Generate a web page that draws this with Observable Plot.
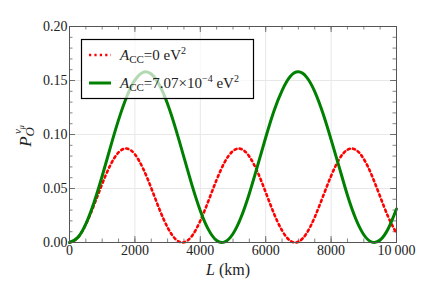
<!DOCTYPE html>
<html>
<head>
<meta charset="utf-8">
<script src="https://cdn.jsdelivr.net/npm/d3@7"></script>
<script src="https://cdn.jsdelivr.net/npm/@observablehq/plot@0.6"></script>
<style>
  html, body { margin: 0; padding: 0; background: #fff; }
  #wrap { position: relative; width: 435px; height: 302px; font-family: 'Liberation Serif', serif; }
  #xlabel { position: absolute; left: 0; width: 456px; top: 261px; text-align: center; font: 16px 'Liberation Serif', serif; color: #222; }
</style>
</head>
<body>
<div id="wrap"><div id="chart"></div><div id="xlabel"><i>L</i> (km)</div></div>
<script>
// Baseline L values (km)
const L = [0,250,500,750,1000,1250,1500,1750,2000,2250,2500,2750,3000,3250,3500,3750,4000,4250,4500,4750,5000,5250,5500,5750,6000,6250,6500,6750,7000,7250,7500,7750,8000,8250,8500,8750,9000,9250,9500,9750,10000];
// Probability for A_CC = 0 eV^2 (red dotted)
const pZero = [0,0.0044,0.0168,0.0347,0.0543,0.0717,0.0834,0.0870,0.0816,0.0685,0.0504,0.0308,0.0139,0.0029,0.0002,0.0063,0.0201,0.0386,0.0581,0.0746,0.0848,0.0866,0.0796,0.0653,0.0465,0.0270,0.0111,0.0016,0.0007,0.0085,0.0235,0.0425,0.0617,0.0773,0.0859,0.0859,0.0773,0.0617,0.0425,0.0235,0.0085];
// Probability for A_CC = 7.07e-4 eV^2 (green solid)
const pAcc = [0,0.0045,0.0173,0.0371,0.0616,0.0881,0.1135,0.1350,0.1503,0.1576,0.1560,0.1458,0.1282,0.1050,0.0789,0.0527,0.0295,0.0119,0.0018,0.0006,0.0081,0.0236,0.0454,0.0709,0.0972,0.1216,0.1407,0.1537,0.1580,0.1531,0.1397,0.1196,0.0953,0.0696,0.0437,0.0222,0.0072,0.0004,0.0023,0.0130,0.0310];

const seriesNames = ["ACC=0 eV2", "ACC=7.07x10-4 eV2"];
const seriesColors = ["#ff0000", "#008000"];

const xTicks = [0,2000,4000,6000,8000,10000];
const xTickLabels = ["0","2000","4000","6000","8000","10\u2009000"];
const yTicks = [0,0.05,0.10,0.15,0.20];
const yTickLabels = ["0.00","0.05","0.10","0.15","0.20"];
const xMinorTicks = [0,500,1000,1500,2000,2500,3000,3500,4000,4500,5000,5500,6000,6500,7000,7500,8000,8500,9000,9500,10000];
const yMinorTicks = [0,0.01,0.02,0.03,0.04,0.05,0.06,0.07,0.08,0.09,0.10,0.11,0.12,0.13,0.14,0.15,0.16,0.17,0.18,0.19,0.20];

const rowsZero = L.map((l, i) => ({L: l, p: pZero[i]}));
const rowsAcc = L.map((l, i) => ({L: l, p: pAcc[i]}));
const xLab = new Map(xTicks.map((t, i) => [t, xTickLabels[i]]));
const yLab = new Map(yTicks.map((t, i) => [t, yTickLabels[i]]));

const W = 435, H = 302, mL = 69, mR = 39, mT = 26, mB = 60;
const fh = H - mT - mB, fw = W - mL - mR;
const tickCol = "#666";
const serif = "Liberation Serif, serif";

const chart = Plot.plot({
  width: W, height: H,
  marginLeft: mL, marginRight: mR, marginTop: mT, marginBottom: mB,
  style: {fontFamily: serif, fontSize: "14px", background: "#fff", color: "#222"},
  x: {domain: [0, 10000], axis: null},
  y: {domain: [0, 0.2], axis: null},
  marks: [
    Plot.ruleX(xTicks.slice(1, -1), {stroke: "#e8e8e8", strokeWidth: 1}),
    Plot.ruleY(yTicks.slice(1, -1), {stroke: "#e8e8e8", strokeWidth: 1}),
    Plot.ruleX(xMinorTicks, {stroke: tickCol, strokeWidth: 0.8, insetTop: fh - 3.5}),
    Plot.ruleX(xMinorTicks, {stroke: tickCol, strokeWidth: 0.8, insetBottom: fh - 3.5}),
    Plot.ruleY(yMinorTicks, {stroke: tickCol, strokeWidth: 0.8, insetRight: fw - 3.5}),
    Plot.ruleY(yMinorTicks, {stroke: tickCol, strokeWidth: 0.8, insetLeft: fw - 3.5}),
    Plot.ruleX(xTicks, {stroke: tickCol, strokeWidth: 0.9, insetTop: fh - 6}),
    Plot.ruleX(xTicks, {stroke: tickCol, strokeWidth: 0.9, insetBottom: fh - 6}),
    Plot.ruleY(yTicks, {stroke: tickCol, strokeWidth: 0.9, insetRight: fw - 6}),
    Plot.ruleY(yTicks, {stroke: tickCol, strokeWidth: 0.9, insetLeft: fw - 6}),
    Plot.line(rowsZero, {x: "L", y: "p", stroke: seriesColors[0], strokeWidth: 2.6, strokeDasharray: "2.2,3.2", curve: "natural"}),
    Plot.line(rowsAcc, {x: "L", y: "p", stroke: seriesColors[1], strokeWidth: 3, curve: "natural"}),
    Plot.frame({stroke: "#555", strokeWidth: 1}),
    Plot.text(xTicks, {x: d => d, frameAnchor: "bottom", lineAnchor: "top", dy: 3, text: d => xLab.get(d),
      fontFamily: "Liberation Serif", fontSize: 14, fill: "#222"}),
    Plot.text(yTicks, {y: d => d, frameAnchor: "left", textAnchor: "end", dx: -2, text: d => yLab.get(d),
      fontFamily: "Liberation Serif", fontSize: 14, fill: "#222"})
  ]
});
document.getElementById("chart").append(chart);

const svg = d3.select(chart);

// y-axis label
const yl = svg.append("text").attr("transform", "translate(31,136) rotate(-90)").attr("text-anchor", "middle")
  .attr("font-family", "Liberation Serif").attr("font-size", 17).attr("fill", "#222");
yl.append("tspan").attr("font-style", "italic").text("P");
yl.append("tspan").attr("font-style", "italic").attr("font-size", 13).attr("dy", 3).text("O");
yl.append("tspan").attr("font-style", "italic").attr("font-size", 11).attr("dx", -7).attr("dy", -13).text("\u03bd");
yl.append("tspan").attr("font-style", "italic").attr("font-size", 8).attr("dy", 3).text("\u03bc");

// legend
const lg = svg.append("g");
lg.append("rect").attr("x", 81.5).attr("y", 39.5).attr("width", 172).attr("height", 59)
  .attr("fill", "#fff").attr("fill-opacity", 0.7).attr("stroke", "#000").attr("stroke-width", 1.2);
const rowsY = [55, 83];
seriesNames.forEach((name, i) => {
  const y = rowsY[i];
  const ln = lg.append("line").attr("x1", 89).attr("x2", 111).attr("y1", y).attr("y2", y)
    .attr("stroke", seriesColors[i]).attr("stroke-width", i === 0 ? 2.6 : 3);
  if (i === 0) ln.attr("stroke-dasharray", "2.2,3.2");
  const t = lg.append("text").attr("x", 120).attr("y", y + 5).attr("text-anchor", "start")
    .attr("font-family", "Liberation Serif").attr("font-size", 15).attr("fill", "#222");
  t.append("tspan").attr("font-style", "italic").text("A");
  t.append("tspan").attr("font-size", 11).attr("dy", 3).text("CC");
  if (i === 0) {
    t.append("tspan").attr("dy", -3).text("=0 eV");
  } else {
    t.append("tspan").attr("dy", -3).text("=7.07\u00d710");
    t.append("tspan").attr("font-size", 10).attr("dy", -6).text("\u22124");
    t.append("tspan").attr("dy", 6).text(" eV");
  }
  t.append("tspan").attr("font-size", 10).attr("dy", -6).text("2");
});
</script>
</body>
</html>
